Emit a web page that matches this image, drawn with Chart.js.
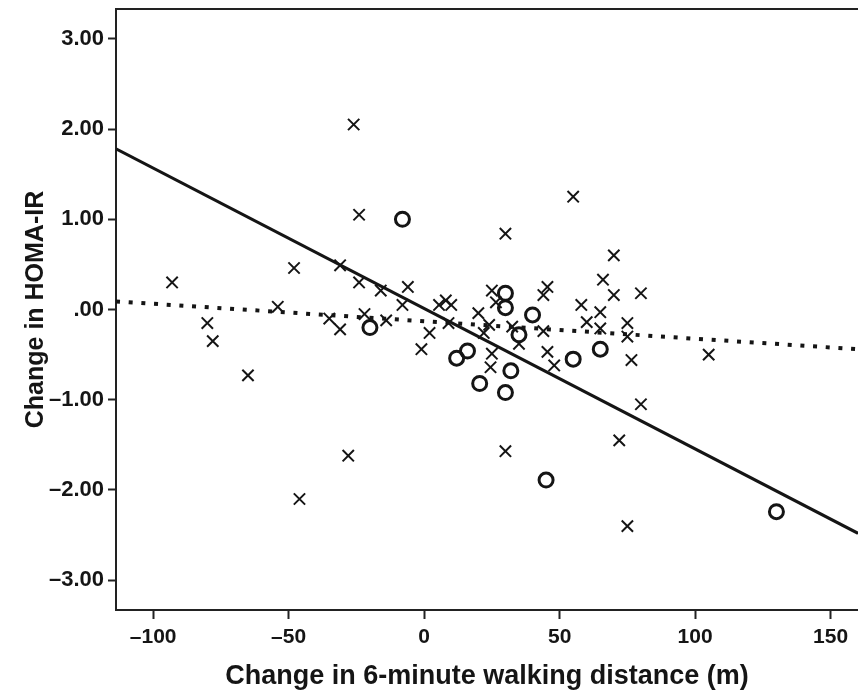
<!DOCTYPE html>
<html>
<head>
<meta charset="utf-8">
<script src="https://cdn.jsdelivr.net/npm/chart.js@4/dist/chart.umd.min.js"></script>
<style>
  html, body { margin: 0; padding: 0; background: #fff; overflow: hidden; }
  #wrap { width: 858px; height: 695px; }
</style>
</head>
<body>
<div id="wrap"><canvas id="chart" width="858" height="695"></canvas></div>
<script>
// 資料
// x 標記
const crossX = [-93, -80, -78, -65, -48, -54, -46, -35, -31, -31, -28, -26, -24, -24, -22, -16, -14, -6, -8,
    -1, 2, 5.5, 8, 10, 9, 20, 22, 24, 24.5, 25, 25, 26.5, 30, 30, 32.5, 35, 44, 45.5, 44, 45.5, 48,
    55, 58, 60, 65, 65, 66, 70, 70, 72, 75, 75, 76.5, 75, 80, 80, 105];
const crossY = [0.30, -0.15, -0.35, -0.73, 0.46, 0.03, -2.10, -0.10, 0.49, -0.22, -1.62, 2.05, 1.05, 0.30, -0.05, 0.21, -0.12, 0.25, 0.05,
    -0.44, -0.26, 0.05, 0.10, 0.05, -0.15, -0.04, -0.26, -0.17, -0.64, -0.49, 0.21, 0.08, 0.84, -1.57, -0.19, -0.38, 0.16, 0.25, -0.24, -0.47, -0.62,
    1.25, 0.05, -0.14, -0.03, -0.21, 0.33, 0.60, 0.16, -1.45, -0.15, -0.30, -0.56, -2.40, 0.18, -1.05, -0.50];

// 圓圈標記
const circleX = [-8, -20, 12, 16, 20.5, 30, 30, 32, 30, 35, 40, 55, 65, 45, 130];
const circleY = [1.00, -0.20, -0.54, -0.46, -0.82, 0.18, 0.02, -0.68, -0.92, -0.28, -0.06, -0.55, -0.44, -1.89, -2.24];

// 迴歸線端點
const fitX = [-113.7, 160.1];
const solidFitY = [1.78, -2.48];
const dottedFitY = [0.09, -0.44];

// 座標軸
const xMin = -113.7, xMax = 160.1;
const yMin = -3.33, yMax = 3.33;
const xTickValues = [-100, -50, 0, 50, 100, 150];
const xTickLabels = ['\u2013100', '\u201350', '0', '50', '100', '150'];
const yTickValues = [3, 2, 1, 0, -1, -2, -3];
const yTickLabels = ['3.00', '2.00', '1.00', '.00', '\u20131.00', '\u20132.00', '\u20133.00'];

const toPoints = (xs, ys) => xs.map((x, i) => ({ x: x, y: ys[i] }));

const INK = '#151515';
const FONT = '"Liberation Sans", Arial, sans-serif';

// 外框（右側被裁切，只畫上、左、下）
const framePlugin = {
    id: 'frame',
    beforeDatasetsDraw(chart) {
        const { ctx, chartArea: a } = chart;
        ctx.save();
        ctx.strokeStyle = '#222';
        ctx.lineWidth = 2;
        ctx.beginPath();
        ctx.moveTo(a.right + 2, a.top);
        ctx.lineTo(a.left, a.top);
        ctx.lineTo(a.left, a.bottom);
        ctx.lineTo(a.right + 2, a.bottom);
        ctx.stroke();
        ctx.restore();
    }
};

// 不讓刻度文字再撐開繪圖區
function noLabelPadding(s) {
    s.paddingTop = 0;
    s.paddingBottom = 0;
    s.paddingLeft = 0;
    s.paddingRight = 0;
}

new Chart(document.getElementById('chart'), {
    type: 'scatter',
    data: {
        datasets: [
            {
                label: 'cross',
                data: toPoints(crossX, crossY),
                pointStyle: 'crossRot',
                pointRadius: 8,
                pointBorderWidth: 2,
                borderColor: INK,
                backgroundColor: INK
            },
            {
                label: 'circle',
                data: toPoints(circleX, circleY),
                pointStyle: 'circle',
                pointRadius: 7,
                pointBorderWidth: 3,
                borderColor: INK,
                backgroundColor: 'rgba(0,0,0,0)'
            },
            {
                type: 'line',
                label: 'fit solid',
                data: toPoints(fitX, solidFitY),
                borderColor: INK,
                borderWidth: 3,
                pointRadius: 0
            },
            {
                type: 'line',
                label: 'fit dotted',
                data: toPoints(fitX, dottedFitY),
                borderColor: INK,
                borderWidth: 4,
                borderDash: [4, 8.7],
                pointRadius: 0
            }
        ]
    },
    options: {
        responsive: false,
        animation: false,
        layout: { autoPadding: false, padding: { top: 9, right: 0, bottom: 0, left: 0 } },
        plugins: {
            legend: { display: false },
            tooltip: { enabled: false }
        },
        scales: {
            x: {
                type: 'linear',
                min: xMin,
                max: xMax,
                afterFit: s => { s.height = 85; noLabelPadding(s); },
                afterBuildTicks: s => { s.ticks = xTickValues.map(v => ({ value: v })); },
                border: { display: false },
                grid: { drawOnChartArea: false, drawTicks: true, tickLength: 9, tickWidth: 2, tickColor: '#222' },
                ticks: {
                    color: INK,
                    padding: 6,
                    maxRotation: 0,
                    font: { family: FONT, size: 21, weight: 'bold' },
                    callback: v => xTickLabels[xTickValues.indexOf(v)]
                },
                title: {
                    display: true,
                    text: 'Change in 6-minute walking distance (m)',
                    color: INK,
                    padding: { top: 0, bottom: 2 },
                    font: { family: FONT, size: 27, weight: 'bold' }
                }
            },
            y: {
                type: 'linear',
                min: yMin,
                max: yMax,
                afterFit: s => { s.width = 116; noLabelPadding(s); },
                afterBuildTicks: s => { s.ticks = yTickValues.map(v => ({ value: v })); },
                border: { display: false },
                grid: { drawOnChartArea: false, drawTicks: true, tickLength: 8, tickWidth: 2, tickColor: '#222' },
                ticks: {
                    color: INK,
                    padding: 4,
                    font: { family: FONT, size: 22, weight: 'bold' },
                    callback: v => yTickLabels[yTickValues.indexOf(v)]
                },
                title: {
                    display: true,
                    text: 'Change in HOMA-IR',
                    color: INK,
                    padding: { top: 21, bottom: 0 },
                    font: { family: FONT, size: 25, weight: 'bold' }
                }
            }
        }
    },
    plugins: [framePlugin]
});
</script>
</body>
</html>
